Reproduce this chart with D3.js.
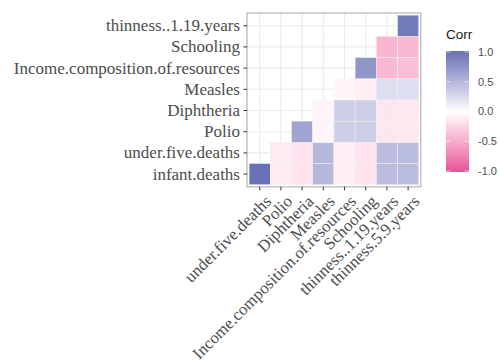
<!DOCTYPE html>
<html>
<head>
<meta charset="utf-8">
<script src="https://cdn.jsdelivr.net/npm/d3@7"></script>
<style>
  html, body { margin: 0; padding: 0; background: #fff; }
  svg { display: block; }
</style>
</head>
<body>
<svg id="chart" width="499" height="363"></svg>
<script>
// Variables on the vertical axis, bottom to top
const rowVars = ["infant.deaths", "under.five.deaths", "Polio", "Diphtheria",
  "Measles", "Income.composition.of.resources", "Schooling", "thinness..1.19.years"];
// Variables on the horizontal axis, left to right
const colVars = ["under.five.deaths", "Polio", "Diphtheria", "Measles",
  "Income.composition.of.resources", "Schooling", "thinness..1.19.years", "thinness.5.9.years"];

// Correlations per row; row i starts at column i (upper-right triangle)
const infantRow    = [0.99, -0.12, -0.17, 0.48, -0.10, -0.17, 0.44, 0.45];
const underFiveRow = [-0.12, -0.17, 0.48, -0.10, -0.17, 0.44, 0.45];
const polioRow     = [0.62, -0.06, 0.32, 0.33, -0.15, -0.14];
const diphRow      = [-0.06, 0.32, 0.33, -0.15, -0.14];
const measlesRow   = [-0.05, -0.09, 0.22, 0.22];
const incomeRow    = [0.72, -0.42, -0.40];
const schoolRow    = [-0.44, -0.42];
const thinRow      = [0.92];
const corrRows = [infantRow, underFiveRow, polioRow, diphRow, measlesRow, incomeRow, schoolRow, thinRow];

const legendBreaks = [1.0, 0.5, 0.0, -0.5, -1.0];

const cells = [];
corrRows.forEach((vals, i) => {
  vals.forEach((v, k) => cells.push({ row: rowVars[i], col: colVars[i + k], value: v }));
});

const svg = d3.select("#chart");

const unit = 21.2;
const panel = { x0: 247, y0: 13 };
const panelW = unit * 8.2, panelH = unit * 8.2;

const x = d3.scaleBand().domain(colVars)
  .range([panel.x0 + 0.1 * unit, panel.x0 + 8.1 * unit]).padding(0);
const y = d3.scaleBand().domain(rowVars)
  .range([panel.y0 + 8.1 * unit, panel.y0 + 0.1 * unit]).padding(0);

const color = d3.scaleLinear().domain([-1, 0, 1])
  .range(["#e34f99", "#ffffff", "#6670b4"])
  .interpolate(d3.interpolateLab);

const serif = "'Liberation Serif', 'Times New Roman', serif";
const sans = "'Liberation Sans', Arial, sans-serif";

// Panel background and grid
svg.append("rect").attr("x", panel.x0).attr("y", panel.y0)
  .attr("width", panelW).attr("height", panelH).attr("fill", "#fff");

const grid = svg.append("g");
colVars.forEach(c => {
  const cx = x(c) + x.bandwidth() / 2;
  grid.append("line").attr("x1", cx).attr("x2", cx)
    .attr("y1", panel.y0).attr("y2", panel.y0 + panelH)
    .attr("stroke", "#ebebeb").attr("stroke-width", 1.1);
});
rowVars.forEach(r => {
  const cy = y(r) + y.bandwidth() / 2;
  grid.append("line").attr("x1", panel.x0).attr("x2", panel.x0 + panelW)
    .attr("y1", cy).attr("y2", cy)
    .attr("stroke", "#ebebeb").attr("stroke-width", 1.1);
});

// Tiles
svg.append("g").selectAll("rect").data(cells).join("rect")
  .attr("x", d => x(d.col)).attr("y", d => y(d.row))
  .attr("width", x.bandwidth()).attr("height", y.bandwidth())
  .attr("fill", d => color(d.value))
  .attr("stroke", "#f2f2f2").attr("stroke-width", 0.5);

// Panel border
svg.append("rect").attr("x", panel.x0).attr("y", panel.y0)
  .attr("width", panelW).attr("height", panelH)
  .attr("fill", "none").attr("stroke", "#a6a6a6").attr("stroke-width", 1);

// Axes
const yAxis = d3.axisLeft(y).tickSize(3.5).tickPadding(3.5);
const gy = svg.append("g").attr("transform", `translate(${panel.x0},0)`).call(yAxis);
gy.select(".domain").remove();
gy.selectAll(".tick line").attr("stroke", "#333");
gy.selectAll(".tick text")
  .attr("font-family", serif).attr("font-size", 17).attr("fill", "#4d4d4d");

const xAxis = d3.axisBottom(x).tickSize(3.5).tickPadding(0);
const gx = svg.append("g").attr("transform", `translate(0,${panel.y0 + panelH})`).call(xAxis);
gx.select(".domain").remove();
gx.selectAll(".tick line").attr("stroke", "#333");
gx.selectAll(".tick text")
  .attr("font-family", serif).attr("font-size", 16.8).attr("fill", "#4d4d4d")
  .attr("text-anchor", "end")
  .attr("x", 0).attr("y", 0).attr("dy", "0.72em")
  .attr("transform", "translate(4,7) rotate(-45)");

// Colour bar legend
const leg = { x: 446, y: 51, w: 23, h: 121 };
svg.append("text").attr("x", leg.x).attr("y", 39)
  .attr("font-family", sans).attr("font-size", 13.5).attr("fill", "#1a1a1a").text("Corr");

const defs = svg.append("defs");
const grad = defs.append("linearGradient").attr("id", "corrGrad")
  .attr("x1", 0).attr("x2", 0).attr("y1", 0).attr("y2", 1);
d3.range(0, 1.0001, 0.05).forEach(t => {
  grad.append("stop").attr("offset", t).attr("stop-color", color(1 - 2 * t));
});
svg.append("rect").attr("x", leg.x).attr("y", leg.y)
  .attr("width", leg.w).attr("height", leg.h).attr("fill", "url(#corrGrad)");

const ly = d3.scaleLinear().domain([1, -1]).range([leg.y + 1, leg.y + leg.h - 1]);
const lt = svg.append("g");
legendBreaks.forEach(b => {
  const py = ly(b);
  lt.append("line").attr("x1", leg.x).attr("x2", leg.x + 4.6)
    .attr("y1", py).attr("y2", py).attr("stroke", "#fff").attr("stroke-width", 0.6);
  lt.append("line").attr("x1", leg.x + leg.w - 4.6).attr("x2", leg.x + leg.w)
    .attr("y1", py).attr("y2", py).attr("stroke", "#fff").attr("stroke-width", 0.6);
  lt.append("text").attr("x", leg.x + leg.w + 9).attr("y", py).attr("dy", "0.36em")
    .attr("font-family", sans).attr("font-size", 11).attr("fill", "#4d4d4d").text(b.toFixed(1));
});
</script>
</body>
</html>
